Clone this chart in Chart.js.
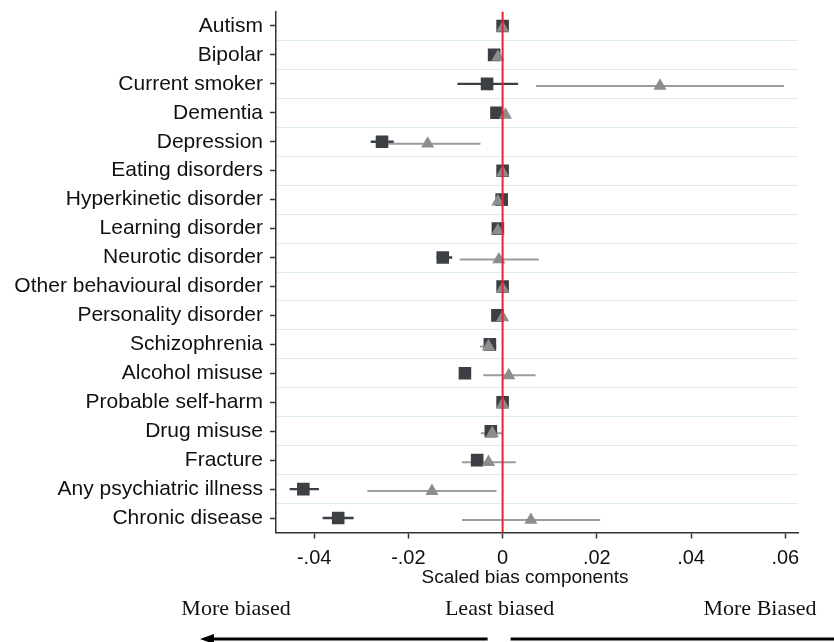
<!DOCTYPE html>
<html>
<head>
<meta charset="utf-8">
<script src="https://cdn.jsdelivr.net/npm/chart.js@4"></script>
<style>
  html, body { margin: 0; padding: 0; background: #fff; }
  #wrap { width: 834px; height: 642px; }
</style>
</head>
<body>
<div id="wrap"><canvas id="grafico" width="834" height="642"></canvas></div>
<script>
// categorias (de arriba hacia abajo)
const categorias = ['Autism', 'Bipolar', 'Current smoker', 'Dementia', 'Depression',
    'Eating disorders', 'Hyperkinetic disorder', 'Learning disorder', 'Neurotic disorder',
    'Other behavioural disorder', 'Personality disorder', 'Schizophrenia', 'Alcohol misuse',
    'Probable self-harm', 'Drug misuse', 'Fracture', 'Any psychiatric illness', 'Chronic disease'];

// serie 1: cuadrados oscuros
const cuadVal = [0, -0.0018, -0.0033, -0.0013, -0.0256, 0, -0.0002, -0.001, -0.0127,
    0, -0.0011, -0.0027, -0.008, 0, -0.0025, -0.0054, -0.0423, -0.0349];
const cuadLo = [-0.0004, -0.0022, -0.0096, -0.0017, -0.028, -0.0004, -0.0006, -0.0014, -0.014,
    -0.0004, -0.0015, -0.003, -0.0083, -0.0004, -0.0029, -0.0062, -0.0452, -0.0382];
const cuadHi = [0.0004, -0.0014, 0.0033, -0.0009, -0.0231, 0.0004, 0.0002, -0.0006, -0.0107,
    0.0004, -0.0007, -0.0024, -0.0077, 0.0004, -0.0021, -0.0046, -0.039, -0.0316];

// serie 2: triangulos grises
const triVal = [0, -0.001, 0.0334, 0.0006, -0.0159, 0, -0.001, -0.001, -0.0008,
    0, 0, -0.003, 0.0013, 0, -0.0022, -0.003, -0.015, 0.006];
const triLo = [-0.0004, -0.0016, 0.0071, 0, -0.0265, -0.0004, -0.0015, -0.0014, -0.0091,
    -0.0004, -0.0004, -0.0048, -0.0041, -0.0004, -0.0046, -0.0086, -0.0287, -0.0086];
const triHi = [0.0004, -0.0004, 0.0597, 0.0012, -0.0047, 0.0004, -0.0005, -0.0006, 0.0077,
    0.0004, 0.0004, -0.0013, 0.007, 0.0004, 0.0001, 0.0028, -0.0013, 0.0207];

// marcas del eje x
const ticksX = [-0.04, -0.02, 0, 0.02, 0.04, 0.06];
const etiquetasX = ['-.04', '-.02', '0', '.02', '.04', '.06'];

const tituloX = 'Scaled bias components';
const textosAbajo = ['More biased', 'Least biased', 'More Biased'];

// segmentos de intervalos con cortes (null) entre categorias
function segmentos(lo, hi, dy) {
    const out = [];
    lo.forEach((v, i) => {
        out.push({x: v, y: i + dy}, {x: hi[i], y: i + dy}, {x: null, y: null});
    });
    return out;
}

const yMin = -0.5, yMax = categorias.length - 0.5;
const fuenteSans = '"Liberation Sans", Arial, sans-serif';

// titulo, textos y flechas bajo el eje
const pluginFlechas = {
    id: 'flechas',
    afterDraw(chart) {
        const ctx = chart.ctx;
        const x0 = chart.scales.x.getPixelForValue(0);
        ctx.save();
        ctx.fillStyle = '#111';
        ctx.textBaseline = 'middle';
        ctx.textAlign = 'center';
        ctx.font = '19px ' + fuenteSans;
        ctx.fillText(tituloX, 525, 578);

        ctx.font = '22px "Liberation Serif", "Times New Roman", serif';
        ctx.fillText(textosAbajo[0], 236, 609);
        ctx.fillText(textosAbajo[1], x0 - 3, 609);
        ctx.fillText(textosAbajo[2], 760, 609);

        const yF = 639;
        ctx.strokeStyle = '#000';
        ctx.fillStyle = '#000';
        ctx.lineWidth = 3;
        ctx.beginPath();
        ctx.moveTo(x0 - 15, yF);
        ctx.lineTo(210, yF);
        ctx.stroke();
        ctx.beginPath();
        ctx.moveTo(200, yF);
        ctx.lineTo(214, yF - 5);
        ctx.lineTo(214, yF + 5);
        ctx.closePath();
        ctx.fill();
        ctx.beginPath();
        ctx.moveTo(x0 + 8, yF);
        ctx.lineTo(834, yF);
        ctx.stroke();
        ctx.restore();
    }
};

const ctx = document.getElementById('grafico').getContext('2d');
new Chart(ctx, {
    type: 'scatter',
    data: {
        datasets: [
            {
                // linea roja en cero
                data: [{x: 0, y: yMin}, {x: 0, y: yMax}],
                showLine: true,
                borderColor: '#e8232d',
                borderWidth: 2,
                pointRadius: 0
            },
            {
                data: triVal.map((v, i) => ({x: v, y: i + 0.07})),
                pointStyle: 'triangle',
                pointRadius: 7.6,
                backgroundColor: '#8d8d8d',
                borderWidth: 0
            },
            {
                data: cuadVal.map((v, i) => ({x: v, y: i})),
                pointStyle: 'rect',
                pointRadius: 8.9,
                backgroundColor: '#3c3f44',
                borderWidth: 0
            },
            {
                data: segmentos(triLo, triHi, 0.07),
                showLine: true,
                spanGaps: false,
                borderColor: '#9c9c9c',
                borderWidth: 2,
                pointRadius: 0
            },
            {
                data: segmentos(cuadLo, cuadHi, 0),
                showLine: true,
                spanGaps: false,
                borderColor: '#3c3f44',
                borderWidth: 2.4,
                pointRadius: 0
            }
        ]
    },
    options: {
        responsive: false,
        animation: false,
        layout: {
            padding: {left: 0, right: 36, top: 11.5, bottom: 69.5}
        },
        plugins: {
            legend: {display: false},
            tooltip: {enabled: false}
        },
        scales: {
            x: {
                type: 'linear',
                min: -0.0481,
                max: 0.0627,
                afterFit: (s) => { s.height = 40; },
                afterBuildTicks: (s) => { s.ticks = ticksX.map(v => ({value: v})); },
                ticks: {
                    autoSkip: false,
                    padding: 8,
                    color: '#111',
                    font: {family: fuenteSans, size: 20},
                    callback: (v) => {
                        const k = ticksX.findIndex(t => Math.abs(t - v) < 1e-9);
                        return k >= 0 ? etiquetasX[k] : '';
                    }
                },
                grid: {drawOnChartArea: false, tickLength: 6, tickColor: '#333', tickWidth: 1.5},
                border: {color: '#333', width: 1.5}
            },
            y: {
                type: 'linear',
                min: yMin,
                max: yMax,
                reverse: true,
                afterFit: (s) => {
                    s.width = 276;
                    s.paddingTop = 0;
                    s.paddingBottom = 0;
                },
                afterBuildTicks: (s) => {
                    const t = [];
                    for (let v = yMin; v <= yMax + 1e-9; v += 0.5) t.push({value: v});
                    s.ticks = t;
                },
                ticks: {
                    autoSkip: false,
                    padding: 7,
                    color: '#111',
                    font: {family: fuenteSans, size: 21},
                    callback: (v) => Number.isInteger(v) ? categorias[v] : ''
                },
                grid: {
                    tickLength: 6,
                    tickWidth: 1.5,
                    color: (c) => {
                        const v = c.tick ? c.tick.value : 0;
                        if (Number.isInteger(v) || v <= yMin || v >= yMax) return 'rgba(0,0,0,0)';
                        return '#dcebf2';
                    },
                    tickColor: (c) => {
                        const v = c.tick ? c.tick.value : 0.5;
                        return Number.isInteger(v) ? '#333' : 'rgba(0,0,0,0)';
                    }
                },
                border: {color: '#333', width: 1.5}
            }
        }
    },
    plugins: [pluginFlechas]
});
</script>
</body>
</html>
